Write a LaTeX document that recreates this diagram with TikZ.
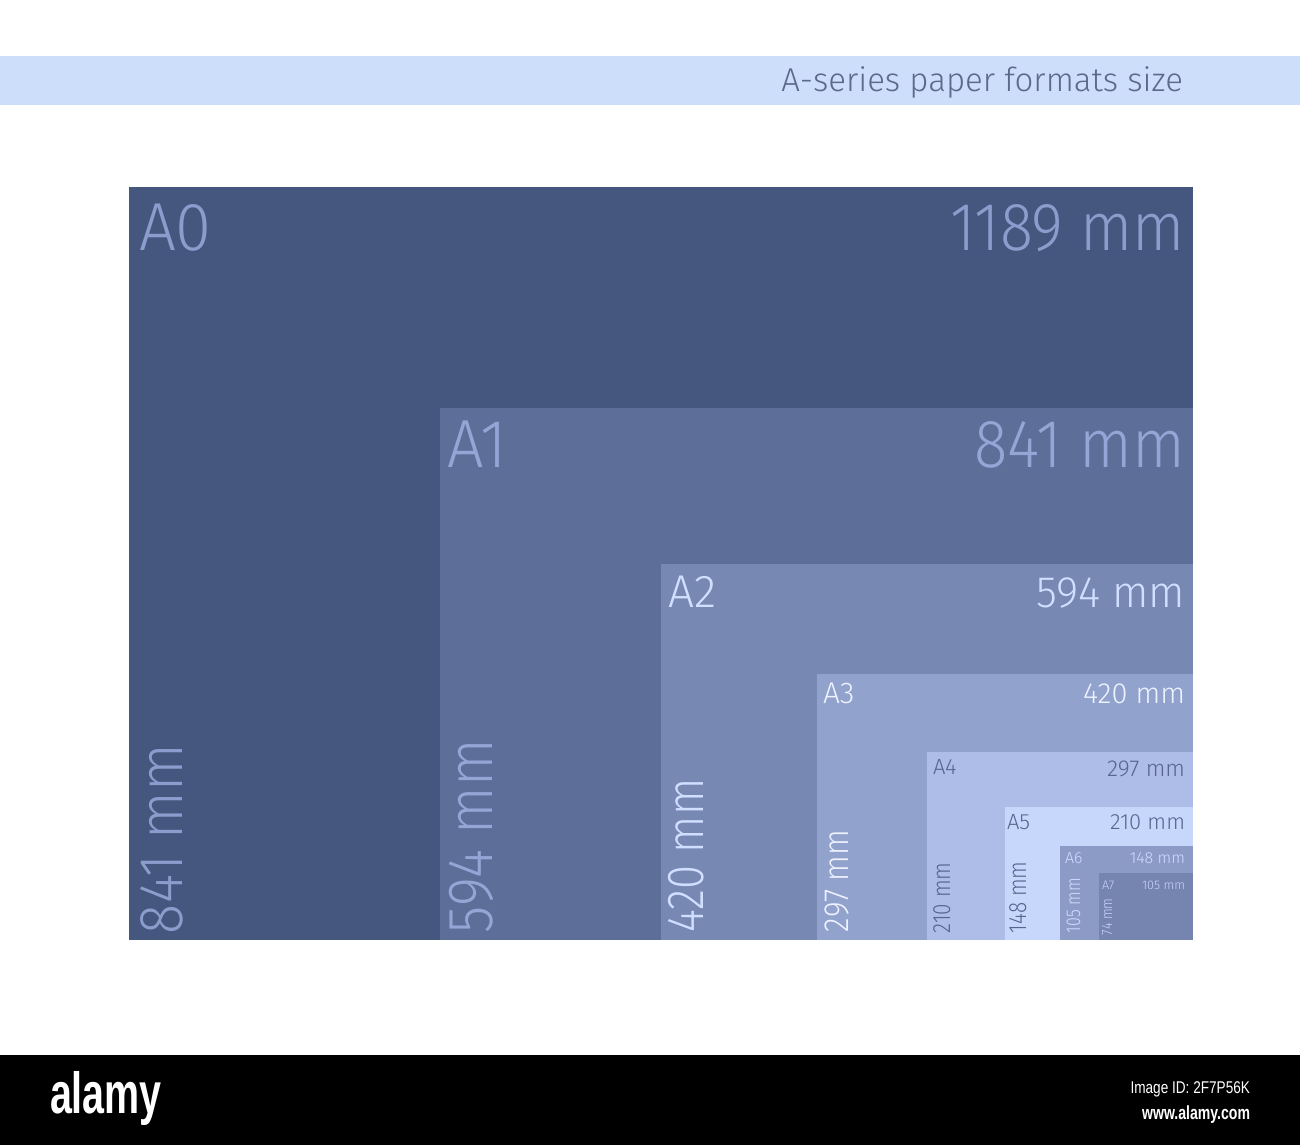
\documentclass[tikz,border=0pt]{standalone}
\usepackage{fontspec}
\setmainfont{Fira Sans}
\newfontfamily\lbl{Fira Sans Light}
\newfontfamily\wm{Liberation Sans}
\newcommand\fsz[1]{\fontsize{#1}{#1}\selectfont}
\newcommand\sx[2]{\scalebox{#1}[1]{#2}}
\definecolor{titlebar}{HTML}{CDDEFB}
\definecolor{titletext}{HTML}{5B6A8A}
\definecolor{fA0}{HTML}{46577F}
\definecolor{fA1}{HTML}{5D6F99}
\definecolor{fA2}{HTML}{7788B3}
\definecolor{fA3}{HTML}{91A2CC}
\definecolor{fA4}{HTML}{AEBCE8}
\definecolor{fA5}{HTML}{C7D7FC}
\definecolor{fA6}{HTML}{8C9BC6}
\definecolor{fA7}{HTML}{7685B0}
\definecolor{tA0}{HTML}{8C9DCD}
\definecolor{tA1}{HTML}{93A6D6}
\definecolor{tA2}{HTML}{D0DEFF}
\definecolor{tA3}{HTML}{EEF2FF}
\definecolor{tA4}{HTML}{56668F}
\definecolor{tA5}{HTML}{56668F}
\definecolor{tA6}{HTML}{D0DCFF}
\definecolor{tA7}{HTML}{C8D5FA}
\begin{document}
\begin{tikzpicture}[x=1pt,y=1pt,
  lab/.style={inner sep=0pt, outer sep=0pt},
  hl/.style={lab, anchor=base west},
  hr/.style={lab, anchor=base east},
  vl/.style={lab, anchor=base west, rotate=90}]
\useasboundingbox (0,0) rectangle (1300,-1145);
\fill[white] (0,0) rectangle (1300,-1145);
% title bar
\fill[titlebar] (0,-56) rectangle (1300,-105);
\node[hr, text=titletext, font=\lbl\fsz{33}] (title) at (1183,-92) {A-series paper formats size};
% sheets
\fill[fA0] (129,-187) rectangle (1193,-940);
\fill[fA1] (440,-408) rectangle (1193,-940);
\fill[fA2] (661,-564) rectangle (1193,-940);
\fill[fA3] (817,-674) rectangle (1193,-940);
\fill[fA4] (927,-752) rectangle (1193,-940);
\fill[fA5] (1005,-807) rectangle (1193,-940);
\fill[fA6] (1060,-846) rectangle (1193,-940);
\fill[fA7] (1099,-873) rectangle (1193,-940);
% A0
\node[hl, text=tA0, font=\lbl\fsz{68}] (a0n) at (139,-250) {\sx{0.96}{A0}};
\node[hr, text=tA0, font=\lbl\fsz{68}] (a0w) at (1185,-250) {\sx{0.9}{1189 mm}};
\node[vl, text=tA0, font=\lbl\fsz{62}] (a0h) at (182,-934) {\sx{0.9}{841 mm}};
% A1
\node[hl, text=tA1, font=\lbl\fsz{68}] (a1n) at (447,-467) {\sx{0.95}{A1}};
\node[hr, text=tA1, font=\lbl\fsz{68}] (a1w) at (1185,-467) {\sx{0.91}{841 mm}};
\node[vl, text=tA1, font=\lbl\fsz{64}] (a1h) at (492,-933) {\sx{0.87}{594 mm}};
% A2
\node[hl, text=tA2, font=\lbl\fsz{46}] (a2n) at (668,-607) {A2};
\node[hr, text=tA2, font=\lbl\fsz{44}] (a2w) at (1185,-607) {\sx{0.97}{594 mm}};
\node[vl, text=tA2, font=\lbl\fsz{52}] (a2h) at (703,-932) {\sx{0.84}{420 mm}};
% A3
\node[hl, text=tA3, font=\lbl\fsz{30}] (a3n) at (823,-703) {A3};
\node[hr, text=tA3, font=\lbl\fsz{29}] (a3w) at (1185,-703) {420 mm};
\node[vl, text=tA3, font=\lbl\fsz{35}] (a3h) at (848,-932) {\sx{0.86}{297 mm}};
% A4
\node[hl, text=tA4, font=\lbl\fsz{22}] (a4n) at (933,-774) {A4};
\node[hr, text=tA4, font=\lbl\fsz{23}] (a4w) at (1185,-776) {297 mm};
\node[vl, text=tA4, font=\lbl\fsz{25}] (a4h) at (950,-933) {\sx{0.83}{210 mm}};
% A5
\node[hl, text=tA5, font=\lbl\fsz{22}] (a5n) at (1007,-829) {A5};
\node[hr, text=tA5, font=\lbl\fsz{22}] (a5w) at (1185,-829) {210 mm};
\node[vl, text=tA5, font=\lbl\fsz{25}] (a5h) at (1026,-933) {\sx{0.83}{148 mm}};
% A6
\node[hl, text=tA6, font=\lbl\fsz{16}] (a6n) at (1065,-863) {A6};
\node[hr, text=tA6, font=\lbl\fsz{16}] (a6w) at (1185,-863) {148 mm};
\node[vl, text=tA6, font=\lbl\fsz{20}] (a6h) at (1080,-933) {\sx{0.8}{105 mm}};
% A7
\node[hl, text=tA7, font=\lbl\fsz{12.5}] (a7n) at (1102,-889) {A7};
\node[hr, text=tA7, font=\lbl\fsz{12.5}] (a7w) at (1185,-889) {105 mm};
\node[vl, text=tA7, font=\lbl\fsz{15}] (a7h) at (1112,-935) {\sx{0.84}{74 mm}};
% footer
\fill[black] (0,-1055) rectangle (1300,-1145);
\node[hl, text=white, font=\wm\bfseries\fsz{58}] (logo) at (50,-1113) {\sx{0.68}{alamy}};
\node[hr, text=white, font=\wm\fsz{17}] (imgid) at (1250,-1093) {\sx{0.8}{Image ID: 2F7P56K}};
\node[hr, text=white, font=\wm\bfseries\fsz{19}] (url) at (1250,-1119) {\sx{0.74}{www.alamy.com}};
\end{tikzpicture}
\end{document}
